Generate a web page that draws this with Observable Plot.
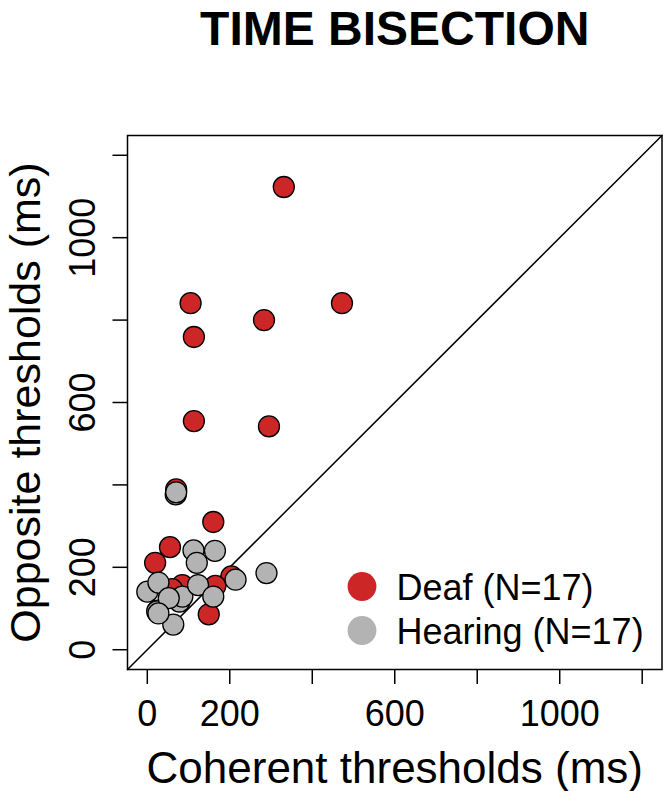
<!DOCTYPE html>
<html>
<head>
<meta charset="utf-8">
<script src="https://cdn.jsdelivr.net/npm/d3@7"></script>
<script src="https://cdn.jsdelivr.net/npm/@observablehq/plot@0.6"></script>
<style>
  html, body { margin: 0; padding: 0; background: #fff; }
  #chart { width: 664px; height: 791px; }
</style>
</head>
<body>
<div id="chart"></div>
<script>
// Data
const deafCoherent    = [331, 105, 472, 283, 113, 113, 295, 70, 160, 55, 19, 204, 85, 165, 149, 60, 25];
const deafOpposite    = [1123, 841, 841, 800, 759, 555, 542, 389, 310, 249, 211, 178, 157, 155, 86, 147, 95];
const hearingCoherent = [0, 27, 24, 63, 78, 85, 123, 160, 112, 164, 120, 214, 289, 69, 52, 27, 70];
const hearingOpposite = [141, 163, 93, 61, 117, 129, 157, 129, 241, 240, 211, 170, 186, 377, 125, 88, 382];

const axisTicks  = [0, 200, 400, 600, 800, 1000, 1200];
const tickLabels = [0, 200, 600, 1000];
const domain     = [-48, 1248];
const groups     = ["Deaf (N=17)", "Hearing (N=17)"];
const colors     = ["#CD2626", "#B3B3B3"];

const deaf = deafCoherent.map((c, i) => ({coherent: c, opposite: deafOpposite[i]}));
const hearing = hearingCoherent.map((c, i) => ({coherent: c, opposite: hearingOpposite[i]}));

const font = "'Liberation Sans', Arial, Helvetica, sans-serif";

const chart = Plot.plot({
  width: 664,
  height: 791,
  marginLeft: 127,
  marginRight: 2.5,
  marginTop: 135,
  marginBottom: 122,
  style: {fontFamily: font, color: "black", background: "white"},
  x: {domain, axis: null},
  y: {domain, axis: null},
  marks: [
    Plot.line(domain, {x: d => d, y: d => d, stroke: "black", strokeWidth: 1.5}),
    Plot.dot(deaf, {x: "coherent", y: "opposite", r: 10.5, fill: colors[0], stroke: "black", strokeWidth: 1.3}),
    Plot.dot(hearing, {x: "coherent", y: "opposite", r: 10.5, fill: colors[1], stroke: "black", strokeWidth: 1.3}),
    Plot.frame({stroke: "black", strokeWidth: 1.5}),
    // axis ticks
    Plot.axisX({ticks: axisTicks, tickSize: 15, tickFormat: () => "", label: null, anchor: "bottom", strokeWidth: 1.5}),
    Plot.axisY({ticks: axisTicks, tickSize: 14.5, tickFormat: () => "", label: null, anchor: "left", strokeWidth: 1.5}),
    // tick labels
    Plot.text(tickLabels, {x: d => d, text: d => String(d), frameAnchor: "bottom", lineAnchor: "bottom", dy: 56, fontSize: 36, fill: "black"}),
    Plot.text(tickLabels, {y: d => d, text: d => String(d), frameAnchor: "left", rotate: -90, textAnchor: "middle", lineAnchor: "bottom", dx: -33, fontSize: 36, fill: "black"}),
    // axis titles
    Plot.text(["Coherent thresholds (ms)"], {frameAnchor: "bottom", lineAnchor: "bottom", dy: 113, fontSize: 44, fill: "black"}),
    Plot.text(["Opposite thresholds (ms)"], {frameAnchor: "left", rotate: -90, textAnchor: "middle", lineAnchor: "bottom", dx: -88, fontSize: 43, fill: "black"}),
    // title
    Plot.text(["TIME BISECTION"], {frameAnchor: "top", lineAnchor: "bottom", dy: -91, fontSize: 48, fontWeight: "bold", fill: "black"}),
    // legend
    Plot.dot([groups[0]], {frameAnchor: "bottom-right", dx: -300, dy: -83, r: 14.4, fill: colors[0]}),
    Plot.dot([groups[1]], {frameAnchor: "bottom-right", dx: -300, dy: -39, r: 14.4, fill: colors[1]}),
    Plot.text([groups[0]], {text: d => d, frameAnchor: "bottom-right", textAnchor: "start", lineAnchor: "bottom", dx: -265.5, dy: -69.5, fontSize: 36, fill: "black"}),
    Plot.text([groups[1]], {text: d => d, frameAnchor: "bottom-right", textAnchor: "start", lineAnchor: "bottom", dx: -265.5, dy: -25.5, fontSize: 36, fill: "black"})
  ]
});
document.getElementById("chart").appendChild(chart);
</script>
</body>
</html>
